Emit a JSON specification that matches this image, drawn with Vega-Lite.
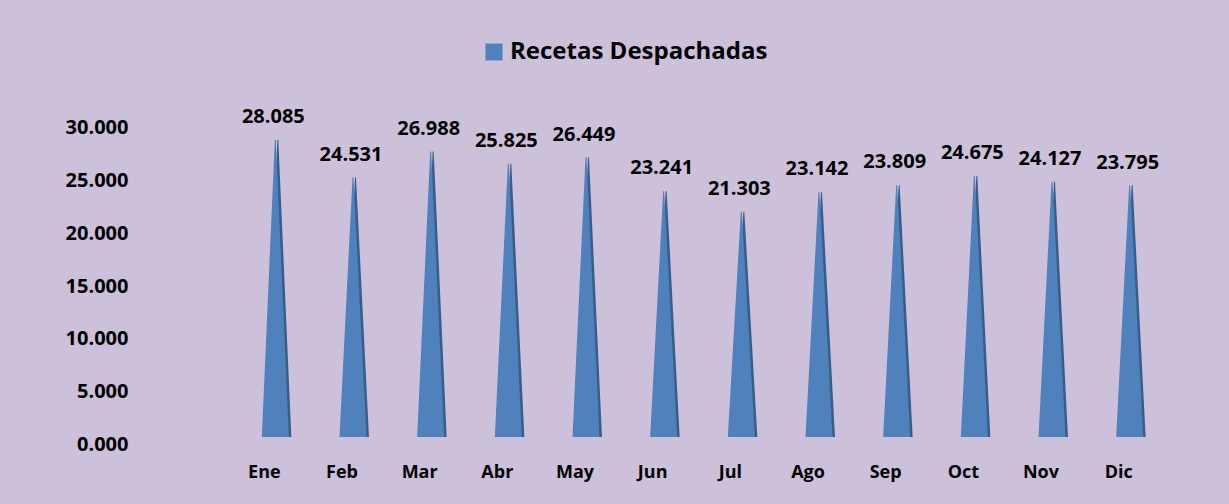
{
  "$schema": "https://vega.github.io/schema/vega-lite/v6.json",
  "width": 932,
  "height": 317,
  "autosize": {"type": "none"},
  "padding": {"left": 239, "top": 120, "right": 58, "bottom": 67},
  "background": "#CCC0DA",
  "config": {
    "view": {"fill": null, "stroke": null},
    "font": "Open Sans",
    "locale": {"number": {"decimal": ",", "thousands": ".", "grouping": [3], "currency": ["", " €"]}}
  },
  "data": {
    "values": [
      {"mes": "Ene", "valor": 28085},
      {"mes": "Feb", "valor": 24531},
      {"mes": "Mar", "valor": 26988},
      {"mes": "Abr", "valor": 25825},
      {"mes": "May", "valor": 26449},
      {"mes": "Jun", "valor": 23241},
      {"mes": "Jul", "valor": 21303},
      {"mes": "Ago", "valor": 23142},
      {"mes": "Sep", "valor": 23809},
      {"mes": "Oct", "valor": 24675},
      {"mes": "Nov", "valor": 24127},
      {"mes": "Dic", "valor": 23795}
    ]
  },
  "transform": [{"fold": ["valor", "base"], "as": ["parte", "v"]}],
  "encoding": {
    "x": {
      "field": "mes", "type": "nominal", "sort": null,
      "scale": {"type": "point", "padding": 0.5},
      "axis": {
        "title": null, "domain": false, "ticks": false, "tickSize": 0, "grid": false,
        "orient": "bottom", "offset": 0, "labelPadding": 35, "labelBaseline": "middle",
        "labelAngle": 0, "labelOffset": -14, "labelFontSize": 18, "labelFontWeight": "bold",
        "labelColor": "#000000", "labelFont": "Open Sans"
      }
    },
    "y": {
      "field": "v", "type": "quantitative",
      "scale": {"domain": [0, 30000], "nice": false},
      "axis": {
        "title": null, "domain": false, "ticks": false, "tickSize": 0, "grid": false,
        "values": [0, 5000, 10000, 15000, 20000, 25000, 30000],
        "format": ",d",
        "labelExpr": "datum.value === 0 ? '0.000' : datum.label",
        "offset": 111, "labelPadding": 0, "labelOffset": 7.5,
        "labelFontSize": 20, "labelFontWeight": "bold", "labelColor": "#000000", "labelFont": "Open Sans"
      }
    }
  },
  "layer": [
    {
      "mark": {"type": "trail", "color": "#385D8A", "invalid": "show", "clip": true},
      "encoding": {
        "detail": {"field": "mes"},
        "size": {"field": "parte", "type": "ordinal", "scale": {"domain": ["valor", "base"], "range": [0, 27]}, "legend": null}
      }
    },
    {
      "mark": {"type": "trail", "xOffset": -2.5, "invalid": "show", "clip": true},
      "encoding": {
        "detail": {"field": "mes"},
        "size": {"field": "parte", "type": "ordinal", "scale": {"domain": ["valor", "base"], "range": [0, 22]}, "legend": null},
        "color": {
          "datum": "Recetas Despachadas", "type": "nominal",
          "scale": {"range": ["#4F81BD"]},
          "legend": {
            "orient": "none", "legendX": 243, "legendY": -80, "title": null, "padding": 0,
            "symbolType": "square", "symbolSize": 289, "symbolFillColor": "#4F81BD",
            "symbolStrokeWidth": 0, "labelFontSize": 24, "labelFont": "Open Sans",
            "labelFontWeight": "bold", "labelColor": "#000000", "labelOffset": 4, "labelLimit": 500
          }
        }
      }
    },
    {
      "transform": [{"filter": "datum.parte === 'valor'"}],
      "mark": {"type": "text", "fontSize": 20, "fontWeight": "bold", "dx": -4.5, "dy": -23, "baseline": "middle", "color": "#000000"},
      "encoding": {
        "text": {"field": "v", "type": "quantitative", "format": ",d"}
      }
    }
  ]
}
